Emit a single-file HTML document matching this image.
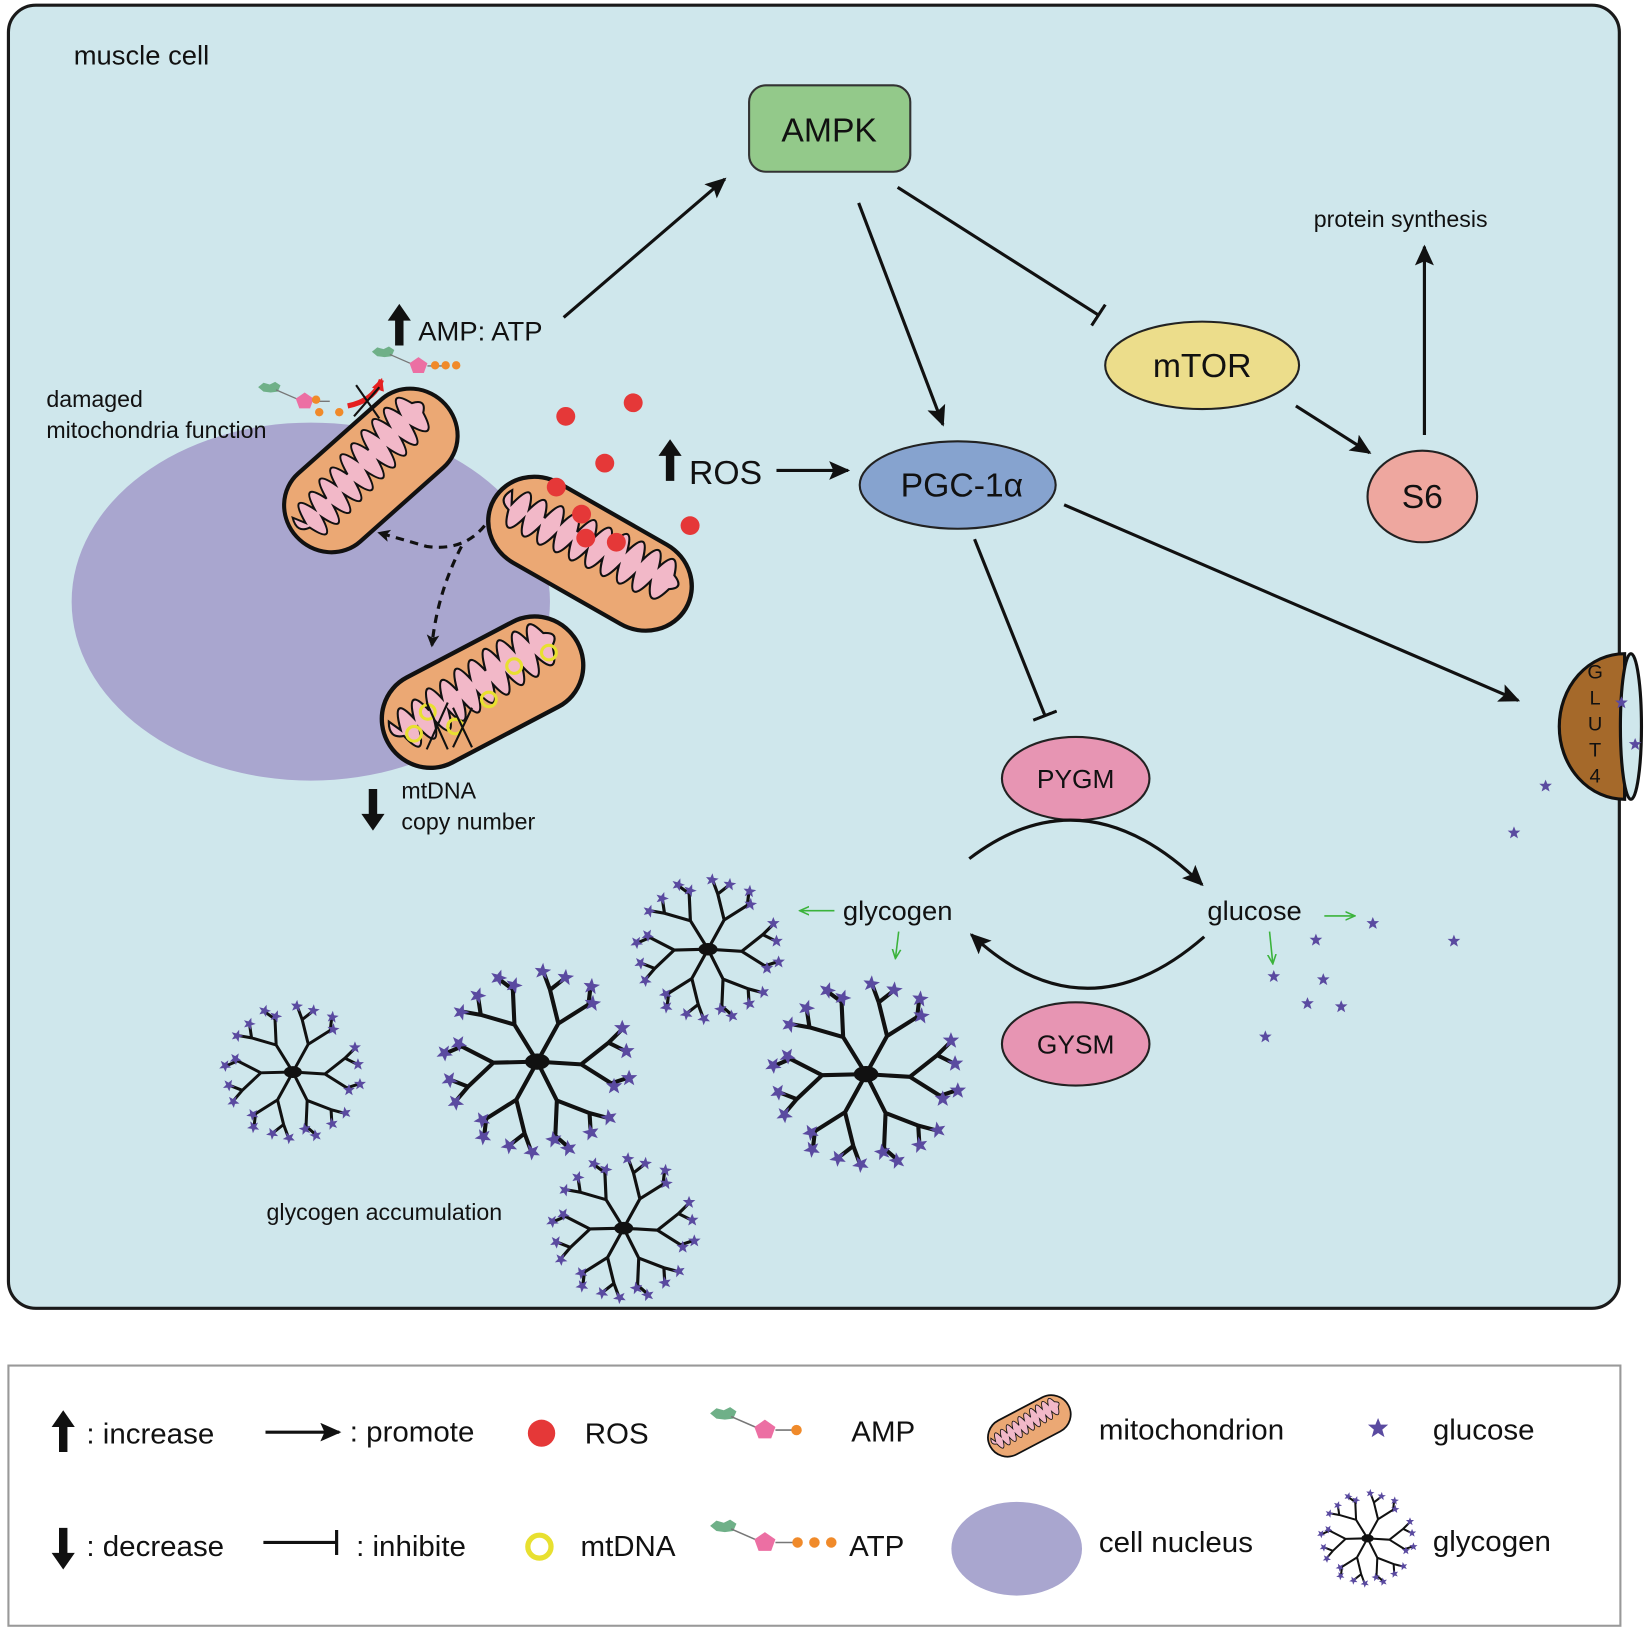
<!DOCTYPE html>
<html><head><meta charset="utf-8"><style>html,body{margin:0;padding:0;background:#fff}svg{display:block}</style></head>
<body>
<svg width="1652" height="1632" viewBox="0 0 1568 1568" preserveAspectRatio="none" xmlns="http://www.w3.org/2000/svg" font-family="Liberation Sans, sans-serif">
<defs>
<marker id="arL" markerWidth="20" markerHeight="18" refX="18" refY="9" orient="auto" markerUnits="userSpaceOnUse"><path d="M0,0 L20,9 L0,18 L4,9 z" fill="#111"/></marker>
<marker id="bar" markerWidth="4" markerHeight="24" refX="2" refY="12" orient="auto" markerUnits="userSpaceOnUse"><rect x="0" y="0" width="3" height="24" fill="#111"/></marker>
<marker id="ga" markerWidth="10" markerHeight="10" refX="8" refY="5" orient="auto" markerUnits="userSpaceOnUse"><path d="M0,1 L9,5 L0,9" fill="none" stroke="#3bb33b" stroke-width="1.5"/></marker>
<marker id="da" markerWidth="12" markerHeight="12" refX="10" refY="6" orient="auto" markerUnits="userSpaceOnUse"><path d="M0,0 L12,6 L0,12 L3,6z" fill="#111"/></marker>
<marker id="ra" markerWidth="12" markerHeight="12" refX="10" refY="6" orient="auto" markerUnits="userSpaceOnUse"><path d="M0,0 L12,6 L0,12z" fill="#e52020"/></marker>
<polygon id="st" points="0,-6 1.6,-2 6,-2 2.5,1 3.8,5.5 0,3 -3.8,5.5 -2.5,1 -6,-2 -1.6,-2" fill="#5a4aa0" stroke="none"/>
<g id="br">
<path d="M0,0 L32,2 M32,2 L52,-14 M32,2 L54,16 M52,-14 L62,-24 M52,-14 L64,-8 M54,16 L66,12" stroke="#111" stroke-width="3" fill="none"/>
<use href="#st" x="62" y="-25"/><use href="#st" x="65" y="-8"/><use href="#st" x="56" y="18"/><use href="#st" x="67" y="12"/>
</g>
<g id="gly">
<use href="#br"/><use href="#br" transform="rotate(60)"/><use href="#br" transform="rotate(115)"/><use href="#br" transform="rotate(175)"/><use href="#br" transform="rotate(235)"/><use href="#br" transform="rotate(295)"/>
<ellipse cx="0" cy="0" rx="9" ry="6" fill="#111"/>
</g>
<g id="mito">
<rect x="-100" y="-44" width="200" height="88" rx="44" fill="#eba874" stroke="#111" stroke-width="4"/>
<path d="M-84,-4 q8,-34 16,-4 q8,-30 16,0 q8,-34 16,-4 q8,-30 16,0 q8,-34 16,-4 q8,-30 16,0 q8,-34 16,-4 q8,-30 16,0 q8,-30 16,-2 q8,-26 16,0 q14,6 2,14 q-8,30 -18,2 q-8,32 -16,2 q-8,30 -16,0 q-8,32 -16,2 q-8,30 -16,0 q-8,32 -16,2 q-8,30 -16,0 q-8,32 -16,2 q-8,30 -16,0 q-8,30 -16,0 q-14,-4 -6,-18z" fill="#f2b8c8" stroke="#111" stroke-width="2"/>
</g>
<g id="mol">
<polygon points="0,0 6,-5 13,-3 19,-6 25,-2 22,5 14,6 6,5" fill="#6fb088"/>
<line x1="20" y1="3" x2="45" y2="14" stroke="#777" stroke-width="1.5"/>
<polygon points="52,6 62,13 58,24 46,24 42,13" fill="#ec6fa3"/>
<line x1="62" y1="16" x2="80" y2="16" stroke="#777" stroke-width="1.5"/>
</g>
<polygon id="up" points="-4,0 -4,-24 -11,-24 0,-40 11,-24 4,-24 4,0" fill="#111"/>
</defs>

<rect x="8" y="5" width="1529" height="1252" rx="26" fill="#cfe7ec" stroke="#1a1a1a" stroke-width="3"/>
<text x="70" y="62" font-size="26" fill="#111">muscle cell</text>

<ellipse cx="295" cy="578" rx="227" ry="172" fill="#a9a6cf"/>

<use href="#mito" transform="translate(352,452) rotate(-42) scale(0.95,1)"/>
<use href="#mito" transform="translate(560,532) rotate(30) scale(1.05,1)"/>
<use href="#mito" transform="translate(458,665) rotate(-28) scale(1.02,1.05)"/>
<g fill="none" stroke="#e8e030" stroke-width="3">
<circle cx="393" cy="705" r="7"/><circle cx="432" cy="698" r="7"/><circle cx="464" cy="672" r="7"/><circle cx="488" cy="640" r="7"/><circle cx="521" cy="627" r="7"/><circle cx="406" cy="684" r="7"/>
</g>
<path d="M405,675 L425,720 M425,675 L405,720 M430,680 L448,718 M448,680 L430,718" stroke="#111" stroke-width="2"/>

<g fill="#e53838">
<circle cx="537" cy="400" r="9"/><circle cx="601" cy="387" r="9"/><circle cx="574" cy="445" r="9"/><circle cx="528" cy="468" r="9"/><circle cx="552" cy="494" r="9"/><circle cx="556" cy="517" r="9"/><circle cx="585" cy="521" r="9"/><circle cx="655" cy="505" r="9"/>
</g>

<path d="M460,505 Q440,530 405,525 L360,512" fill="none" stroke="#111" stroke-width="3" stroke-dasharray="8,6" marker-end="url(#da)"/>
<path d="M438,525 Q415,570 410,620" fill="none" stroke="#111" stroke-width="3" stroke-dasharray="8,6" marker-end="url(#da)"/>

<use href="#mol" transform="translate(245,372) scale(0.85)"/>
<circle cx="303" cy="396" r="4" fill="#f08a2a"/><circle cx="322" cy="396" r="4" fill="#f08a2a"/>
<circle cx="300" cy="384" r="4" fill="#f08a2a"/>
<use href="#mol" transform="translate(353,338) scale(0.85)"/>
<circle cx="413" cy="351" r="4" fill="#f08a2a"/><circle cx="423" cy="351" r="4" fill="#f08a2a"/><circle cx="433" cy="351" r="4" fill="#f08a2a"/>
<path d="M330,390 Q355,385 362,365" fill="none" stroke="#e52020" stroke-width="5" marker-end="url(#ra)"/>
<path d="M338,370 L360,402 M360,372 L336,400" stroke="#111" stroke-width="2"/>

<text x="44" y="391" font-size="22" fill="#111">damaged</text>
<text x="44" y="421" font-size="22" fill="#111">mitochondria function</text>
<use href="#up" x="379" y="332"/>
<text x="397" y="327" font-size="26" fill="#111">AMP: ATP</text>
<use href="#up" x="636" y="462"/>
<text x="654" y="465" font-size="32" fill="#111">ROS</text>
<use href="#up" transform="translate(354,758) rotate(180)"/>
<text x="381" y="767" font-size="22" fill="#111">mtDNA</text>
<text x="381" y="797" font-size="22" fill="#111">copy number</text>

<rect x="711" y="82" width="153" height="83" rx="16" fill="#93c98a" stroke="#333" stroke-width="2"/>
<text x="787" y="136" font-size="32" text-anchor="middle" fill="#111">AMPK</text>
<ellipse cx="1141" cy="351" rx="92" ry="42" fill="#ecdd8b" stroke="#222" stroke-width="2"/>
<text x="1141" y="362" font-size="32" text-anchor="middle" fill="#111">mTOR</text>
<ellipse cx="1350" cy="477" rx="52" ry="44" fill="#eea79f" stroke="#222" stroke-width="2"/>
<text x="1350" y="488" font-size="32" text-anchor="middle" fill="#111">S6</text>
<ellipse cx="909" cy="466" rx="93" ry="42" fill="#86a3cf" stroke="#222" stroke-width="2"/>
<text x="913" y="477" font-size="32" text-anchor="middle" fill="#111">PGC-1α</text>
<ellipse cx="1021" cy="748" rx="70" ry="40" fill="#e795b3" stroke="#222" stroke-width="2"/>
<text x="1021" y="757" font-size="25" text-anchor="middle" fill="#111">PYGM</text>
<ellipse cx="1021" cy="1003" rx="70" ry="40" fill="#e795b3" stroke="#222" stroke-width="2"/>
<text x="1021" y="1012" font-size="25" text-anchor="middle" fill="#111">GYSM</text>
<text x="1247" y="218" font-size="22" fill="#111">protein synthesis</text>

<g stroke="#111" stroke-width="3" fill="none">
<path d="M535,305 L688,172" marker-end="url(#arL)"/>
<path d="M815,195 L895,408" marker-end="url(#arL)"/>
<path d="M852,180 L1043,303" marker-end="url(#bar)"/>
<path d="M1230,390 L1300,435" marker-end="url(#arL)"/>
<path d="M1352,418 L1352,237" marker-end="url(#arL)"/>
<path d="M737,452 L805,452" marker-end="url(#arL)"/>
<path d="M925,518 L992,688" marker-end="url(#bar)"/>
<path d="M1010,485 L1441,673" marker-end="url(#arL)"/>
<path d="M920,825 Q1030,740 1141,850" marker-end="url(#arL)"/>
<path d="M1143,900 Q1030,1000 922,898" marker-end="url(#arL)"/>
</g>

<path d="M1542,628 A62,70 0 0,0 1542,768 Z" fill="#a5692a" stroke="#111" stroke-width="3"/>
<ellipse cx="1548" cy="698" rx="10" ry="70" fill="#cfe7ec" stroke="#111" stroke-width="3"/>
<g font-size="19" fill="#111" text-anchor="middle">
<text x="1514" y="652">G</text><text x="1514" y="677">L</text><text x="1514" y="702">U</text><text x="1514" y="727">T</text><text x="1514" y="752">4</text>
</g>

<text x="800" y="884" font-size="26" fill="#111">glycogen</text>
<text x="1146" y="884" font-size="26" fill="#111">glucose</text>
<g stroke="#3bb33b" stroke-width="1.5" fill="none">
<path d="M792,875 L760,875" marker-end="url(#ga)"/>
<path d="M853,895 L850,920" marker-end="url(#ga)"/>
<path d="M1257,880 L1285,880" marker-end="url(#ga)"/>
<path d="M1205,895 L1208,925" marker-end="url(#ga)"/>
</g>
<use href="#st" x="1249" y="903"/><use href="#st" x="1303" y="887"/><use href="#st" x="1380" y="904"/><use href="#st" x="1209" y="938"/><use href="#st" x="1256" y="941"/><use href="#st" x="1241" y="964"/><use href="#st" x="1273" y="967"/><use href="#st" x="1201" y="996"/><use href="#st" x="1467" y="755"/><use href="#st" x="1437" y="800"/><use href="#st" x="1539" y="675"/><use href="#st" x="1552" y="715"/>

<use href="#gly" transform="translate(672,912) scale(1)"/>
<use href="#gly" transform="translate(510,1020) scale(1.3)"/>
<use href="#gly" transform="translate(278,1030) scale(0.95)"/>
<use href="#gly" transform="translate(822,1032) scale(1.3)"/>
<use href="#gly" transform="translate(592,1180) scale(1)"/>
<text x="253" y="1172" font-size="22" fill="#111">glycogen accumulation</text>

<rect x="8" y="1312" width="1530" height="250" fill="#fff" stroke="#999" stroke-width="2"/>
<g font-size="28" fill="#111">
<use href="#up" x="60" y="1395"/>
<text x="82" y="1387">: increase</text>
<path d="M252,1376 L322,1376" stroke="#111" stroke-width="3" marker-end="url(#arL)"/>
<text x="332" y="1385">: promote</text>
<circle cx="514" cy="1377" r="13" fill="#e53838"/>
<text x="555" y="1387">ROS</text>
<use href="#mol" transform="translate(674,1358)"/>
<circle cx="756" cy="1374" r="5" fill="#f08a2a"/>
<text x="808" y="1385">AMP</text>
<use href="#mito" transform="translate(977,1370) rotate(-28) scale(0.42,0.42)"/>
<text x="1043" y="1383">mitochondrion</text>
<use href="#st" transform="translate(1308,1372) scale(1.6)"/>
<text x="1360" y="1383">glucose</text>

<use href="#up" transform="translate(60,1468) rotate(180)"/>
<text x="82" y="1495">: decrease</text>
<path d="M250,1482 L320,1482" stroke="#111" stroke-width="3" marker-end="url(#bar)"/>
<text x="338" y="1495">: inhibite</text>
<circle cx="512" cy="1486" r="11" fill="none" stroke="#e8e030" stroke-width="5"/>
<text x="551" y="1495">mtDNA</text>
<use href="#mol" transform="translate(674,1466)"/>
<circle cx="757" cy="1482" r="5" fill="#f08a2a"/><circle cx="773" cy="1482" r="5" fill="#f08a2a"/><circle cx="789" cy="1482" r="5" fill="#f08a2a"/>
<text x="806" y="1495">ATP</text>
<ellipse cx="965" cy="1488" rx="62" ry="45" fill="#a9a6cf"/>
<text x="1043" y="1491">cell nucleus</text>
<use href="#gly" transform="translate(1298,1478) scale(0.65)"/>
<text x="1360" y="1490">glycogen</text>
</g>
</svg>
</body></html>
